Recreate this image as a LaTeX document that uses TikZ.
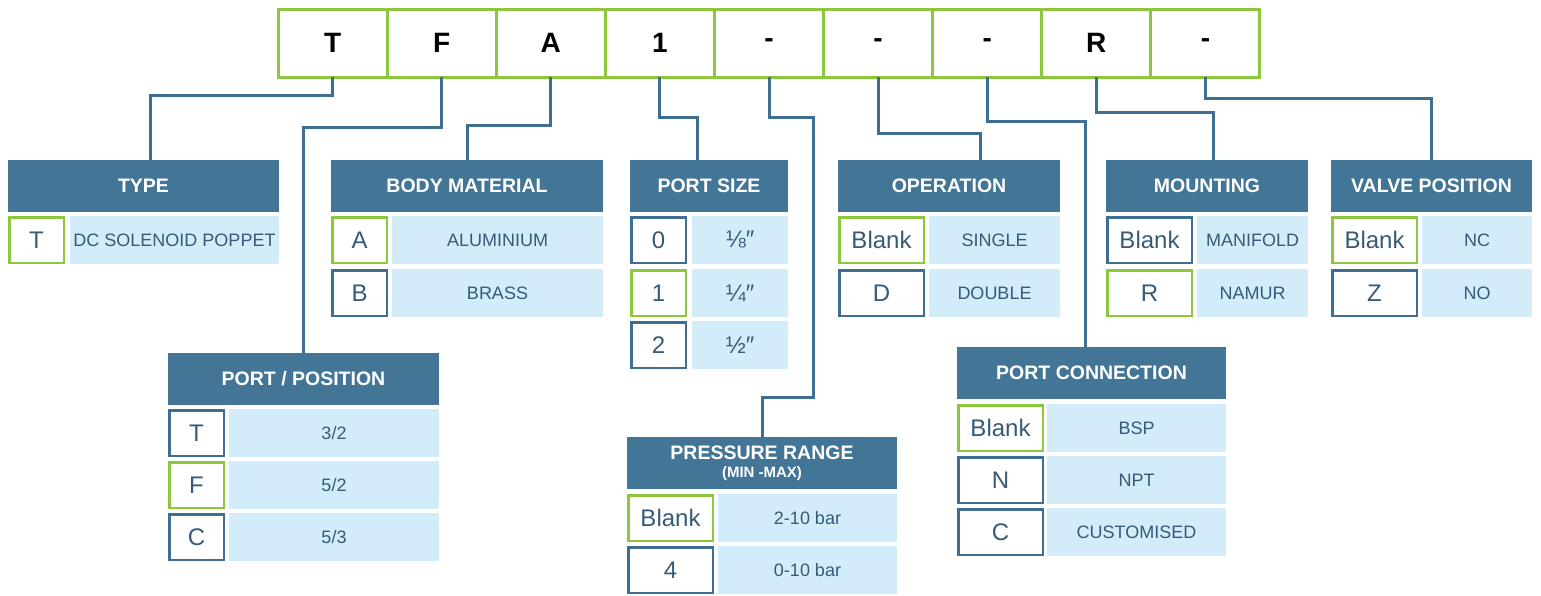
\documentclass[tikz,border=0pt]{standalone}
\usepackage{fontspec}
\setmainfont{Liberation Sans}
\usetikzlibrary{positioning}
\definecolor{steel}{RGB}{67,117,151}
\definecolor{wire}{RGB}{62,110,146}
\definecolor{ink}{RGB}{55,90,120}
\definecolor{pale}{RGB}{211,236,249}
\definecolor{lime}{RGB}{141,198,63}

\begin{document}
\begin{tikzpicture}[x=1pt, y=-1pt, node distance=0pt,
    every node/.style={inner sep=0pt, outer sep=0pt},
    cell/.style={draw=lime, line width=3pt, minimum width=109.1pt, minimum height=68pt, font=\fontsize{28}{28}\selectfont\bfseries},
    hdr/.style={fill=steel, text=white, anchor=north west, minimum height=52pt, align=center, font=\fontsize{19.5}{21}\selectfont\bfseries},
    code/.style={draw=wire, line width=2.5pt, fill=white, text=ink, anchor=north west, minimum width=54.5pt, minimum height=45.5pt, font=\fontsize{24}{24}\selectfont},
    wide/.style={minimum width=84.5pt},
    pick/.style={draw=lime},
    desc/.style={fill=pale, text=ink, anchor=north west, minimum height=48pt, font=\fontsize{18}{18}\selectfont},
    frac/.style={font=\fontsize{24}{24}\selectfont},
    link/.style={draw=wire, line width=3pt}]
    \useasboundingbox (0,0) rectangle (1541,595);
    \node[cell] (c1) at (332.6,43) {T};
    \node[cell, right=of c1] (c2) {F};
    \node[cell, right=of c2] (c3) {A};
    \node[cell, right=of c3] (c4) {1};
    \node[cell, right=of c4] (c5) {-};
    \node[cell, right=of c5] (c6) {-};
    \node[cell, right=of c6] (c7) {-};
    \node[cell, right=of c7] (c8) {R};
    \node[cell, right=of c8] (c9) {-};

    \node[hdr, minimum width=271pt] (type) at (8,160) {TYPE};
    \node[code, pick] (typeT) at (9.25,217.25) {T};
    \node[desc, minimum width=209pt] (typeTd) at (70,216) {DC SOLENOID POPPET};

    \node[hdr, minimum width=272pt] (body) at (331,160) {BODY MATERIAL};
    \node[code, pick] (bodyA) at (332.25,217.25) {A};
    \node[desc, minimum width=211pt] (bodyAd) at (392,216) {ALUMINIUM};
    \node[code] (bodyB) at (332.25,270.25) {B};
    \node[desc, minimum width=211pt] (bodyBd) at (392,269) {BRASS};

    \node[hdr, minimum width=158pt] (size) at (630,160) {PORT SIZE};
    \node[code] (size0) at (631.25,217.25) {0};
    \node[desc, frac, minimum width=96pt] (size0d) at (692,216) {⅛″};
    \node[code, pick] (size1) at (631.25,270.25) {1};
    \node[desc, frac, minimum width=96pt] (size1d) at (692,269) {¼″};
    \node[code] (size2) at (631.25,322.25) {2};
    \node[desc, frac, minimum width=96pt] (size2d) at (692,321) {½″};

    \node[hdr, minimum width=222pt] (oper) at (838,160) {OPERATION};
    \node[code, wide, pick] (operB) at (839.25,217.25) {Blank};
    \node[desc, minimum width=131pt] (operBd) at (929,216) {SINGLE};
    \node[code, wide] (operD) at (839.25,270.25) {D};
    \node[desc, minimum width=131pt] (operDd) at (929,269) {DOUBLE};

    \node[hdr, minimum width=202pt] (mount) at (1106,160) {MOUNTING};
    \node[code, wide] (mountB) at (1107.25,217.25) {Blank};
    \node[desc, minimum width=111pt] (mountBd) at (1197,216) {MANIFOLD};
    \node[code, wide, pick] (mountR) at (1107.25,270.25) {R};
    \node[desc, minimum width=111pt] (mountRd) at (1197,269) {NAMUR};

    \node[hdr, minimum width=201pt] (valve) at (1331,160) {VALVE POSITION};
    \node[code, wide, pick] (valveB) at (1332.25,217.25) {Blank};
    \node[desc, minimum width=110pt] (valveBd) at (1422,216) {NC};
    \node[code, wide] (valveZ) at (1332.25,270.25) {Z};
    \node[desc, minimum width=110pt] (valveZd) at (1422,269) {NO};

    \node[hdr, minimum width=271pt] (ppos) at (168,353) {PORT / POSITION};
    \node[code] (pposT) at (169.25,410.25) {T};
    \node[desc, minimum width=210pt] (pposTd) at (229,409) {3/2};
    \node[code, pick] (pposF) at (169.25,462.25) {F};
    \node[desc, minimum width=210pt] (pposFd) at (229,461) {5/2};
    \node[code] (pposC) at (169.25,514.25) {C};
    \node[desc, minimum width=210pt] (pposCd) at (229,513) {5/3};

    \node[hdr, minimum width=270pt] (press) at (627,437) {PRESSURE RANGE\\[-3pt]{\fontsize{15}{15}\selectfont (MIN -MAX)}};
    \node[code, wide, pick] (pressB) at (628.25,495.25) {Blank};
    \node[desc, minimum width=179pt] (pressBd) at (718,494) {2-10 bar};
    \node[code, wide] (press4) at (628.25,547.25) {4};
    \node[desc, minimum width=179pt] (press4d) at (718,546) {0-10 bar};

    \node[hdr, minimum width=269pt] (conn) at (957,347) {PORT CONNECTION};
    \node[code, wide, pick] (connB) at (958.25,405.25) {Blank};
    \node[desc, minimum width=179pt] (connBd) at (1047,404) {BSP};
    \node[code, wide] (connN) at (958.25,457.25) {N};
    \node[desc, minimum width=179pt] (connNd) at (1047,456) {NPT};
    \node[code, wide] (connC) at (958.25,509.25) {C};
    \node[desc, minimum width=179pt] (connCd) at (1047,508) {CUSTOMISED};

    \coordinate (bend) at (813,397);
    \draw[link] (c1.south) -- ++(0,18) -| ([xshift=6.5pt]type.north);
    \draw[link] (c2.south) -- ++(0,50) -| (ppos.north);
    \draw[link] (c3.south) -- ++(0,48) -| (body.north);
    \draw[link] (c4.south) -- ++(0,40) -| ([xshift=-12pt]size.north);
    \draw[link] (c5.south) -- ++(0,40) -| (bend) -| (press.north);
    \draw[link] (c6.south) -- ++(0,56) -| ([xshift=31pt]oper.north);
    \draw[link] (c7.south) -- ++(0,44) -| ([xshift=-6.5pt]conn.north);
    \draw[link] (c8.south) -- ++(0,35) -| ([xshift=6pt]mount.north);
    \draw[link] (c9.south) -- ++(0,21) -| (valve.north);
\end{tikzpicture}
\end{document}
